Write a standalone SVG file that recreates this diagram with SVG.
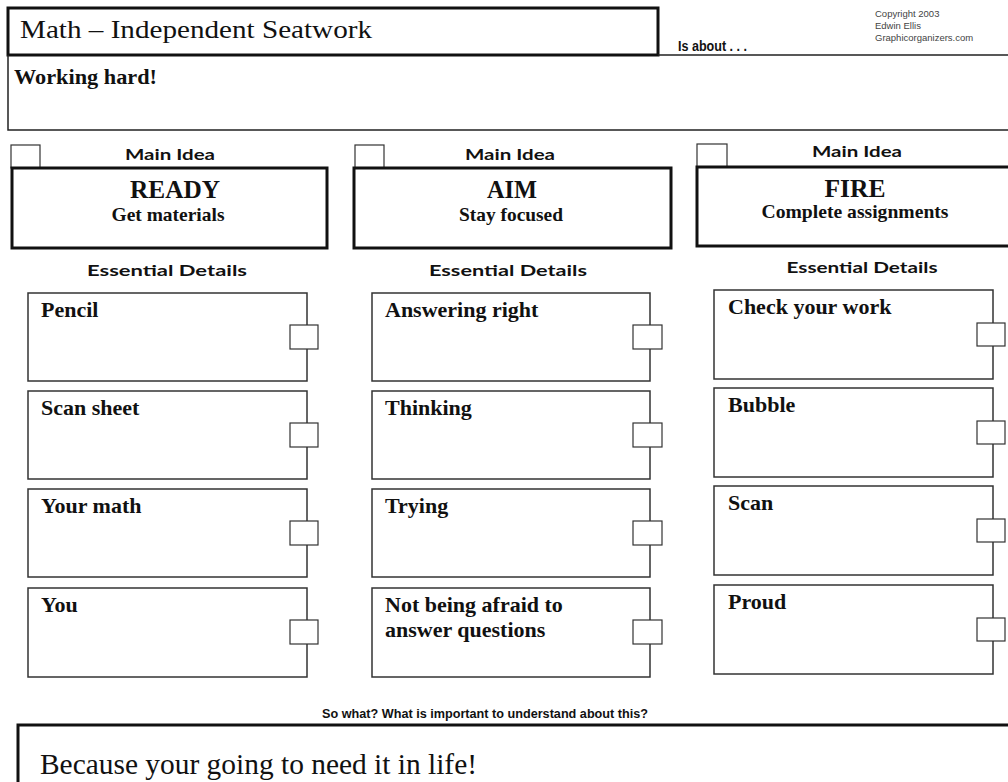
<svg xmlns="http://www.w3.org/2000/svg" width="1008" height="782" viewBox="0 0 1008 782">
<style>
.bg{fill:#fff}
.thick{fill:#fff;stroke:#111;stroke-width:3}
.line{fill:none;stroke:#222;stroke-width:1.5}
.det{fill:#fff;stroke:#333;stroke-width:1.5}
.sq{fill:#fff;stroke:#333;stroke-width:1.2}
.gs{font-weight:bold;font-size:16px;fill:#111;text-anchor:middle}
.nar{font-weight:bold;fill:#111}
.cp{font-size:9.5px;fill:#444}
.sb{font-weight:bold;fill:#111}
.serif{fill:#111}
.dt{font-size:22px}
.mid{text-anchor:middle}
</style>
<rect class="bg" x="0" y="0" width="1008" height="782"/>

<g id="header">
  <rect class="thick" x="8" y="8" width="650" height="47"/>
  <text class="serif" font-family="Liberation Serif, Times New Roman, serif" x="20" y="38" font-size="26" textLength="352" lengthAdjust="spacingAndGlyphs">Math – Independent Seatwork</text>
  <text class="nar" font-family="Liberation Sans Narrow, Liberation Sans, sans-serif" x="678" y="51" font-size="14" textLength="69" lengthAdjust="spacingAndGlyphs">Is about . . .</text>
  <g font-family="Liberation Sans, Arial, sans-serif">
  <text class="cp" x="875" y="17">Copyright 2003</text>
  <text class="cp" x="875" y="29">Edwin Ellis</text>
  <text class="cp" x="875" y="41">Graphicorganizers.com</text>
  </g>
</g>

<g id="topic">
  <path class="line" d="M658,55 H1008 M8,55 V130 H1008"/>
  <text class="sb" font-family="Liberation Serif, Times New Roman, serif" x="14" y="84" font-size="20" textLength="143" lengthAdjust="spacingAndGlyphs">Working hard!</text>
</g>

<g font-family="Liberation Serif, Times New Roman, serif">
<g id="main1">
  <rect class="sq" x="11" y="145" width="29" height="23"/>
  <text class="gs" font-family="Lato, Liberation Sans, sans-serif" x="170" y="160" textLength="90" lengthAdjust="spacingAndGlyphs">Main Idea</text>
  <rect class="thick" x="12" y="168" width="315" height="80"/>
  <text class="sb mid" x="175" y="198" font-size="26" textLength="90" lengthAdjust="spacingAndGlyphs">READY</text>
  <text class="sb mid" x="168" y="221" font-size="19" textLength="113" lengthAdjust="spacingAndGlyphs">Get materials</text>
  <text class="gs" font-family="Lato, Liberation Sans, sans-serif" x="167" y="276" textLength="160" lengthAdjust="spacingAndGlyphs">Essential Details</text>
</g>
<g id="main2">
  <rect class="sq" x="355" y="145" width="29" height="23"/>
  <text class="gs" font-family="Lato, Liberation Sans, sans-serif" x="510" y="160" textLength="90" lengthAdjust="spacingAndGlyphs">Main Idea</text>
  <rect class="thick" x="354" y="168" width="317" height="80"/>
  <text class="sb mid" x="512" y="198" font-size="26" textLength="50" lengthAdjust="spacingAndGlyphs">AIM</text>
  <text class="sb mid" x="511" y="221" font-size="19" textLength="104" lengthAdjust="spacingAndGlyphs">Stay focused</text>
  <text class="gs" font-family="Lato, Liberation Sans, sans-serif" x="508" y="276" textLength="158" lengthAdjust="spacingAndGlyphs">Essential Details</text>
</g>
<g id="main3">
  <rect class="sq" x="697" y="144" width="30" height="23"/>
  <text class="gs" font-family="Lato, Liberation Sans, sans-serif" x="857" y="157" textLength="90" lengthAdjust="spacingAndGlyphs">Main Idea</text>
  <rect class="thick" x="697" y="167" width="315" height="79"/>
  <text class="sb mid" x="855" y="197" font-size="26" textLength="61" lengthAdjust="spacingAndGlyphs">FIRE</text>
  <text class="sb mid" x="855" y="218" font-size="19" textLength="187" lengthAdjust="spacingAndGlyphs">Complete assignments</text>
  <text class="gs" font-family="Lato, Liberation Sans, sans-serif" x="862" y="273" textLength="151" lengthAdjust="spacingAndGlyphs">Essential Details</text>
</g>

<g id="d1a"><rect class="det" x="28" y="293" width="279" height="88"/><rect class="sq" x="290" y="325" width="28" height="24"/><text class="sb dt" x="41" y="317">Pencil</text></g>
<g id="d1b"><rect class="det" x="28" y="391" width="279" height="88"/><rect class="sq" x="290" y="423" width="28" height="24"/><text class="sb dt" x="41" y="415">Scan sheet</text></g>
<g id="d1c"><rect class="det" x="28" y="489" width="279" height="88"/><rect class="sq" x="290" y="521" width="28" height="24"/><text class="sb dt" x="41" y="513">Your math</text></g>
<g id="d1d"><rect class="det" x="28" y="588" width="279" height="89"/><rect class="sq" x="290" y="620" width="28" height="24"/><text class="sb dt" x="41" y="612">You</text></g>

<g id="d2a"><rect class="det" x="372" y="293" width="278" height="88"/><rect class="sq" x="633" y="325" width="29" height="24"/><text class="sb dt" x="385" y="317">Answering right</text></g>
<g id="d2b"><rect class="det" x="372" y="391" width="278" height="88"/><rect class="sq" x="633" y="423" width="29" height="24"/><text class="sb dt" x="385" y="415">Thinking</text></g>
<g id="d2c"><rect class="det" x="372" y="489" width="278" height="88"/><rect class="sq" x="633" y="521" width="29" height="24"/><text class="sb dt" x="385" y="513">Trying</text></g>
<g id="d2d"><rect class="det" x="372" y="588" width="278" height="89"/><rect class="sq" x="633" y="620" width="29" height="24"/><text class="sb dt" x="385" y="612">Not being afraid to</text><text class="sb dt" x="385" y="637">answer questions</text></g>

<g id="d3a"><rect class="det" x="714" y="290" width="279" height="89"/><rect class="sq" x="977" y="323" width="28" height="23"/><text class="sb dt" x="728" y="314">Check your work</text></g>
<g id="d3b"><rect class="det" x="714" y="388" width="279" height="89"/><rect class="sq" x="977" y="421" width="28" height="23"/><text class="sb dt" x="728" y="412">Bubble</text></g>
<g id="d3c"><rect class="det" x="714" y="486" width="279" height="89"/><rect class="sq" x="977" y="519" width="28" height="23"/><text class="sb dt" x="728" y="510">Scan</text></g>
<g id="d3d"><rect class="det" x="714" y="585" width="279" height="89"/><rect class="sq" x="977" y="618" width="28" height="23"/><text class="sb dt" x="728" y="609">Proud</text></g>

<g id="sowhat">
  <text class="nar mid" font-family="Liberation Sans Narrow, Liberation Sans, sans-serif" x="485" y="718" font-size="12" textLength="326" lengthAdjust="spacingAndGlyphs">So what? What is important to understand about this?</text>
  <path class="thick" d="M18,790 V725 H1012" fill="none"/>
  <text class="serif" x="40" y="774" font-size="30" textLength="437" lengthAdjust="spacingAndGlyphs">Because your going to need it in life!</text>
</g>
</g>
<g id="connectors"></g>
</svg>
